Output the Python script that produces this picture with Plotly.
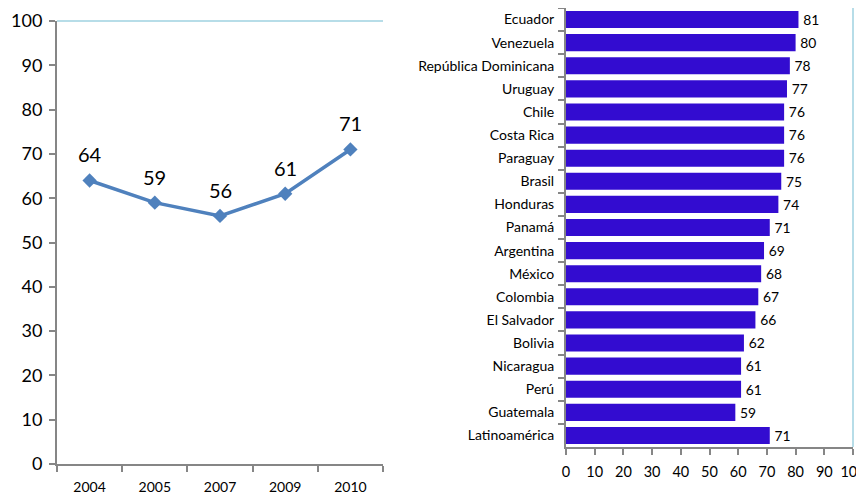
import plotly.graph_objects as go

years = ["2004", "2005", "2007", "2009", "2010"]
trend = [64, 59, 56, 61, 71]

countries = ["Ecuador", "Venezuela", "República Dominicana", "Uruguay", "Chile",
             "Costa Rica", "Paraguay", "Brasil", "Honduras", "Panamá", "Argentina",
             "México", "Colombia", "El Salvador", "Bolivia", "Nicaragua", "Perú",
             "Guatemala", "Latinoamérica"]
scores = [81, 80, 78, 77, 76, 76, 76, 75, 74, 71, 69, 68, 67, 66, 62, 61, 61, 59, 71]

W, H = 864, 494
# the page body adds an 8px margin, so positions are shifted back by that much
OFF = 8
FONT = "Lato"
AXIS_GRAY = "#868686"
BORDER = "#b7dde8"

def px_x(a, b):
    return [(a - OFF) / W, (b - OFF) / W]

def px_y(top, bottom):
    return [(H - (bottom - OFF)) / H, (H - (top - OFF)) / H]

fig = go.Figure()

fig.add_trace(go.Scatter(
    x=years, y=trend, mode="lines+markers",
    line=dict(color="#4f81bd", width=3.5),
    marker=dict(symbol="diamond", size=11, color="#4f81bd"),
    xaxis="x", yaxis="y", showlegend=False,
))

# data labels above the points (x given as category index)
for i, v in enumerate(trend):
    fig.add_annotation(x=i, y=v, xref="x", yref="y", text=str(v),
                       showarrow=False, yshift=26,
                       font=dict(family=FONT, size=20, color="black"))

fig.add_trace(go.Bar(
    x=scores, y=countries, orientation="h",
    marker=dict(color="#330cd0", line=dict(width=0)),
    width=0.74,
    text=scores, texttemplate="\u2009%{text}", textposition="outside",
    textfont=dict(family=FONT, size=17, color="black"),
    cliponaxis=False,
    xaxis="x2", yaxis="y2", showlegend=False,
))

axis_common = dict(ticks="outside", ticklen=6, tickcolor=AXIS_GRAY, tickwidth=1.5,
                   showline=True, linecolor=AXIS_GRAY, linewidth=2,
                   showgrid=False, zeroline=False, automargin=False)

fig.update_layout(
    width=W, height=H,
    margin=dict(l=0, r=0, t=0, b=0),
    paper_bgcolor="white", plot_bgcolor="white",
    font=dict(family=FONT, color="black"),
    xaxis=dict(domain=px_x(57, 383), type="category", tickson="boundaries",
               range=[-0.5, len(years) - 0.5],
               ticklabelstandoff=9,
               tickfont=dict(family=FONT, size=14, color="black"),
               anchor="y", **axis_common),
    yaxis=dict(domain=px_y(21, 464), range=[0, 100], dtick=10,
               ticklabelstandoff=3,
               tickfont=dict(family=FONT, size=18, color="black"),
               anchor="x", **axis_common),
    xaxis2=dict(domain=px_x(566, 853), range=[0, 100], dtick=10,
                ticklabelstandoff=5,
                tickfont=dict(family=FONT, size=14.5, color="black"),
                anchor="y2", **axis_common),
    yaxis2=dict(domain=px_y(8, 447), type="category", autorange="reversed",
                tickson="boundaries",
                ticklabelstandoff=7,
                tickfont=dict(family=FONT, size=14, color="black"),
                anchor="x2", **axis_common),
)

# light blue plot-area borders
fig.add_shape(type="line", xref="x domain", yref="y domain",
              x0=0, x1=1, y0=1, y1=1, line=dict(color=BORDER, width=2))
fig.add_shape(type="line", xref="x2 domain", yref="y2 domain",
              x0=1, x1=1, y0=0, y1=1, line=dict(color=BORDER, width=2))

fig.write_html("out.html")
